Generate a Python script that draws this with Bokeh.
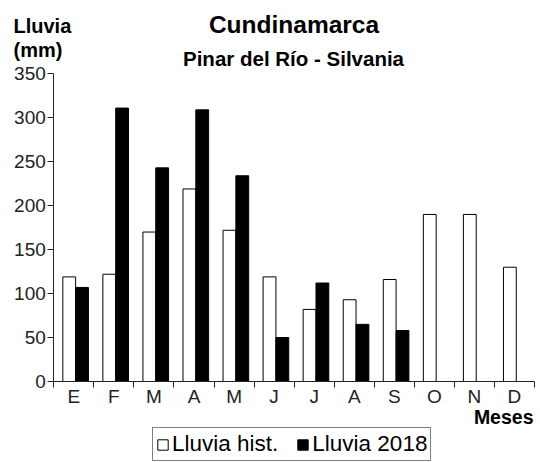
from bokeh.plotting import figure
from bokeh.models import (ColumnDataSource, Range1d, FixedTicker, Label,
                          Legend, LegendItem)
from bokeh.transform import dodge
from bokeh.embed import file_html
from bokeh.resources import INLINE

# ---- data ----
months = ["E", "F", "M", "A", "M", "J", "J", "A", "S", "O", "N", "D"]
lluvia_hist = [119, 122, 170, 219, 172, 119, 82, 93, 116, 190, 190, 130]
lluvia_2018 = [107, 311, 243, 309, 234, 50, 112, 65, 58, None, None, None]
y_ticks = [0, 50, 100, 150, 200, 250, 300, 350]
y_max = 350

title_txt = "Cundinamarca"
subtitle_txt = "Pinar del Río - Silvania"
ylab1, ylab2 = "Lluvia", "(mm)"
xlab = "Meses"
leg_labels = ["Lluvia hist.", "Lluvia 2018"]

# ---- layout (pixels) ----
FONT = "Liberation Sans"
W, H = 540, 462
PL, PR, PT, PB = 53.3, 534.0, 73.3, 381.0   # plot-area edges in canvas px
LIFT = 8                                      # baseline correction for labels

n = len(months)
sx = (PR - PL) / n
sy = (PB - PT) / y_max
x_range = Range1d(-PL / sx, n + (W - PR) / sx)
y_range = Range1d(-(H - PB) / sy, y_max + PT / sy)

pos = [i + 0.5 for i in range(n)]
bounds = list(range(n + 1))

src_hist = ColumnDataSource(dict(x=pos, top=lluvia_hist))
idx = [i for i, v in enumerate(lluvia_2018) if v is not None]
src_2018 = ColumnDataSource(dict(x=[pos[i] for i in idx],
                                 top=[lluvia_2018[i] for i in idx]))

p = figure(width=W, height=H, x_range=x_range, y_range=y_range,
           output_backend="svg", toolbar_location=None,
           min_border=0, min_border_left=0, min_border_right=0,
           min_border_top=0, min_border_bottom=0)

# bars
r_hist = p.vbar(x=dodge("x", -0.115, range=p.x_range), top="top", source=src_hist,
                width=0.32, fill_color="white", line_color="black", line_width=1)
r_2018 = p.vbar(x=dodge("x", 0.205, range=p.x_range), top="top", source=src_2018,
                width=0.32, fill_color="black", line_color="black", line_width=1)

# axes
p.xgrid.visible = False
p.ygrid.visible = False
p.outline_line_color = None

xa = p.xaxis[0]
xa.fixed_location = 0
xa.bounds = (0, n)
xa.ticker = FixedTicker(ticks=pos, minor_ticks=bounds)
xa.major_label_overrides = {pos[i]: months[i] for i in range(n)}
xa.major_tick_line_color = None
xa.major_tick_out = 6
xa.major_tick_in = 0
xa.minor_tick_out = 6
xa.minor_tick_in = 0
xa.minor_tick_line_color = "#222222"
xa.major_label_standoff = -2
xa.major_label_text_font = FONT
xa.major_label_text_font_size = "19px"
xa.major_label_text_color = "#222222"
xa.axis_line_color = "#222222"

ya = p.yaxis[0]
ya.fixed_location = 0
ya.bounds = (0, y_max)
ya.ticker = FixedTicker(ticks=y_ticks)
ya.major_tick_out = 6
ya.major_tick_in = 0
ya.major_tick_line_color = "#222222"
ya.minor_tick_line_color = None
ya.major_label_standoff = 2
ya.major_label_text_font = FONT
ya.major_label_text_font_size = "19px"
ya.major_label_text_color = "#222222"
ya.axis_line_color = "#222222"

def add_text(txt, x, y_top, size, align, bold=True):
    p.add_layout(Label(x=x, y=H - y_top + LIFT, x_units="screen", y_units="screen",
                       text=txt, text_font=FONT, text_font_size=size,
                       text_font_style="bold" if bold else "normal",
                       text_align=align, text_baseline="alphabetic",
                       text_color="black"))

add_text(title_txt, 293.5, 31.7, "24.5px", "center")
add_text(subtitle_txt, 293.0, 65.5, "20.5px", "center")
add_text(ylab1, 13, 33.4, "20px", "left")
add_text(ylab2, 13, 57.0, "20px", "left")
add_text(xlab, 533, 424.5, "19.5px", "right")

legend = Legend(items=[LegendItem(label=leg_labels[0], renderers=[r_hist]),
                       LegendItem(label=leg_labels[1], renderers=[r_2018])],
                orientation="horizontal", location=(152, 1), margin=0,
                padding=3, spacing=18, glyph_width=13, glyph_height=13,
                label_standoff=3, label_text_font=FONT,
                label_text_font_size="22.5px", label_text_color="black",
                border_line_color="black", border_line_width=1,
                background_fill_color="white", background_fill_alpha=1)
p.add_layout(legend)

open("out.html", "w").write(file_html(p, INLINE))
